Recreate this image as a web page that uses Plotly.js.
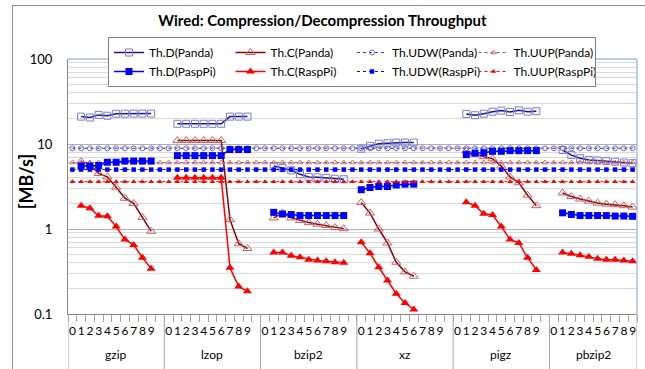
<!DOCTYPE html>
<html><head><meta charset="utf-8">
<script src="https://cdn.plot.ly/plotly-3.0.1.min.js"></script>
<style>
html,body{margin:0;padding:0;background:#fff;}
#chart{width:645px;height:369px;}
#frame{position:absolute;left:12px;top:5px;width:640px;height:370px;border-left:1px solid #8c8c8c;border-top:1px solid #8c8c8c;pointer-events:none;}
</style>
</head><body><div id="chart"></div><div id="frame"></div>
<script>
// categories
const groups = ["gzip", "lzop", "bzip2", "xz", "pigz", "pbzip2"];
const levels = ["0", "1", "2", "3", "4", "5", "6", "7", "8", "9"];

// series values, one sub-array per group (levels 0..9), null = not measured
const thD_Panda = [
  [null, 21, 20.5, 22, 21.5, 22.7, 22.7, 22.8, 22.8, 22.8],
  [null, 17.3, 17.3, 17.3, 17.3, 17.3, 17.3, 21, 21, 21],
  [null, 5.5, 5.2, 4.9, 4.4, 4.1, 4.05, 4.0, 3.9, 3.85],
  [8.8, 9.5, 10.1, 10.2, 10.4, 10.4, 10.4, null, null, null],
  [null, 22.6, 21.8, 22.7, 24.0, 24.7, 23.8, 24.9, 24.0, 24.3],
  [null, 8.5, 7.4, 6.8, 6.5, 6.4, 6.3, 6.2, 6.05, 5.95]
];
const thD_Pi = [
  [null, 5.5, 5.5, 5.6, 6.1, 6.1, 6.3, 6.3, 6.3, 6.3],
  [null, 7.3, 7.3, 7.3, 7.3, 7.3, 7.3, 8.6, 8.6, 8.6],
  [null, 1.57, 1.5, 1.48, 1.44, 1.44, 1.44, 1.44, 1.44, 1.44],
  [2.9, 3.08, 3.16, 3.16, 3.3, 3.37, 3.37, null, null, null],
  [null, 7.5, 7.8, 7.9, 8.2, 8.2, 8.35, 8.35, 8.35, 8.35],
  [null, 1.55, 1.48, 1.44, 1.44, 1.44, 1.44, 1.42, 1.42, 1.41]
];
const thC_Panda = [
  [null, 6.2, 5.7, 4.5, 4.1, 3.1, 2.3, 2.0, 1.37, 0.94],
  [null, 11, 11, 11, 11, 11, 11, 1.29, 0.67, 0.59],
  [null, 1.35, 1.54, 1.35, 1.26, 1.19, 1.14, 1.1, 1.04, 1.01],
  [2.05, 1.54, 1.0, 0.685, 0.406, 0.313, 0.278, null, null, null],
  [null, 8.3, 7.6, 7.1, 6.7, 5.5, 4.1, 3.5, 2.5, 1.88],
  [null, 2.65, 2.41, 2.25, 2.13, 2.02, 1.96, 1.93, 1.88, 1.81]
];
const thC_Pi = [
  [null, 1.88, 1.76, 1.43, 1.41, 1.07, 0.75, 0.65, 0.46, 0.34],
  [null, 4.0, 4.0, 4.0, 4.0, 4.0, 4.0, 0.35, 0.21, 0.185],
  [null, 0.53, 0.53, 0.486, 0.465, 0.436, 0.425, 0.417, 0.406, 0.40],
  [0.70, 0.52, 0.355, 0.247, 0.173, 0.135, 0.113, null, null, null],
  [null, 2.07, 1.88, 1.51, 1.46, 1.07, 0.75, 0.685, 0.46, 0.33],
  [null, 0.53, 0.513, 0.49, 0.47, 0.448, 0.436, 0.436, 0.425, 0.417]
];
// network throughput reference levels (constant)
const udwPanda = 8.9;
const udwPi = 5.0;
const uupPanda = 6.05;
const uupPi = 3.6;

// category slots along x (a blank spacer slot separates groups)
const slotText = [], groupStart = [];
groups.forEach((g, gi) => {
  groupStart.push(slotText.length);
  levels.forEach(l => slotText.push(l));
  if (gi < groups.length - 1) slotText.push(" ");
});
const nCat = slotText.length;
const slotPos = slotText.map((t, i) => i);
const slotEdges = slotPos.map(i => i - 0.5).concat([nCat - 0.5]);
function flat(series) {
  const out = [];
  series.forEach((arr, gi) => { out.push(...arr); if (gi < groups.length - 1) out.push(null); });
  return out;
}
const constant = v => slotPos.map(() => v);

const traces = [
  {name: "Th.D(Panda)", x: slotPos, y: flat(thD_Panda), mode: "lines+markers",
   line: {color: "#14148c", width: 1.5}, marker: {symbol: "square-open", size: 7, color: "#7b7bd6", line: {width: 1}}},
  {name: "Th.C(Panda)", x: slotPos, y: flat(thC_Panda), mode: "lines+markers",
   line: {color: "#8b0000", width: 1.5}, marker: {symbol: "triangle-up-open", size: 8, color: "#cc5f5f", line: {width: 1}}},
  {name: "Th.UDW(Panda)", x: slotPos, y: constant(udwPanda), mode: "lines+markers",
   line: {color: "#3a3ad0", width: 1, dash: "dot"}, marker: {symbol: "circle-open", size: 5, color: "#6a6ad8", line: {width: 1}}},
  {name: "Th.UUP(Panda)", x: slotPos, y: constant(uupPanda), mode: "lines+markers",
   line: {color: "#b84a4a", width: 1, dash: "dot"}, marker: {symbol: "triangle-up-open", size: 5, color: "#c87070", line: {width: 1}}},
  {name: "Th.D(PaspPi)", x: slotPos, y: flat(thD_Pi), mode: "lines+markers",
   line: {color: "#0000ff", width: 1.5}, marker: {symbol: "square", size: 7, color: "#0000ff"}},
  {name: "Th.C(RaspPi)", x: slotPos, y: flat(thC_Pi), mode: "lines+markers",
   line: {color: "#ff0000", width: 1.5}, marker: {symbol: "triangle-up", size: 8, color: "#ff0000"}},
  {name: "Th.UDW(RaspPi)", x: slotPos, y: constant(udwPi), mode: "lines+markers",
   line: {color: "#0000ff", width: 1, dash: "dot"}, marker: {symbol: "square", size: 4.5, color: "#0000ff"}},
  {name: "Th.UUP(RaspPi)", x: slotPos, y: constant(uupPi), mode: "lines+markers",
   line: {color: "#ff0000", width: 1, dash: "dot"}, marker: {symbol: "triangle-up", size: 5, color: "#ff0000"}}
];

const minorVals = [0.2,0.3,0.4,0.5,0.6,0.7,0.8,0.9,2,3,4,5,6,7,8,9,20,30,40,50,60,70,80,90];

// group labels and group dividers below the axis
const annotations = groups.map((g, gi) => {
  const start = groupStart[gi] - 0.5;
  const end = gi < groups.length - 1 ? groupStart[gi + 1] - 0.5 : nCat - 0.5;
  return {text: g, xref: "x", yref: "paper", x: (start + end) / 2, y: -(355 - 314) / 255.3,
          xanchor: "center", yanchor: "middle", showarrow: false, font: {size: 12}};
});
annotations.push({text: "[MB/s]", textangle: -90, xref: "paper", yref: "paper", x: -(68 - 26) / 569,
                  y: (314 - 182) / 255.3, xanchor: "center", yanchor: "middle", showarrow: false,
                  font: {size: 18, weight: 700}});
const dividerPos = groupStart.map(s => s - 0.5).concat([nCat - 0.5]);
const shapes = dividerPos.map(p => ({type: "line", xref: "x", yref: "paper", x0: p, x1: p, y0: 0, y1: -(372 - 314) / 255.3,
                                       line: {color: "#a6a6a6", width: 1}}));
shapes.push({type: "line", xref: "paper", yref: "paper", x0: 0, x1: 1, y0: 1, y1: 1, line: {color: "#7f9fd4", width: 1}});
shapes.push({type: "line", xref: "paper", yref: "paper", x0: 1, x1: 1, y0: 0, y1: 1, line: {color: "#7f9fd4", width: 1}});

const layout = {
  width: 645, height: 369,
  margin: {l: 68, r: 8, t: 59, b: 55},
  paper_bgcolor: "#ffffff", plot_bgcolor: "#ffffff",
  font: {family: "Lato, 'Open Sans', sans-serif", color: "#000000", size: 12},
  title: {text: "Wired: Compression/Decompression Throughput",
          font: {size: 15, weight: 700, family: "Lato, sans-serif"},
          x: 0.5, xref: "container", xanchor: "center", y: 1 - 21 / 369, yref: "container", yanchor: "middle"},
  xaxis: {type: "linear", automargin: false, range: [-0.5, nCat - 0.5], autorange: false,
          showline: true, linecolor: "#868686", linewidth: 1,
          ticks: "outside", ticklen: 6, tickcolor: "rgba(0,0,0,0)",
          tickangle: 0, tickmode: "array", tickvals: slotPos, ticktext: slotText, tickfont: {size: 12},
          minor: {tickmode: "array", tickvals: slotEdges, ticks: "outside", ticklen: 7, tickwidth: 1,
                  tickcolor: "#a6a6a6", showgrid: false},
          showgrid: false, zeroline: false},
  yaxis: {type: "log", range: [-1, 2], tickmode: "array", tickvals: [0.1, 1, 10, 100], ticktext: ["0.1", "1", "10", "100"],
          automargin: false, showline: true, linecolor: "#868686", linewidth: 1, gridcolor: "#b0b0b0", ticks: "",
          tickfont: {size: 13}, ticklabelstandoff: 12, zeroline: false,
          minor: {tickmode: "array", tickvals: minorVals, showgrid: true, gridcolor: "#dadada", ticks: ""}},
  annotations: annotations,
  shapes: shapes,
  legend: {orientation: "h", x: (108 - 68) / 569, xanchor: "left", y: 1 + 22 / 255, yanchor: "top",
           bgcolor: "#ffffff", bordercolor: "#808080", borderwidth: 1, font: {size: 12},
           entrywidth: 76.5, entrywidthmode: "pixels", tracegroupgap: 0, itemwidth: 30},
  showlegend: true
};

Plotly.newPlot("chart", traces, layout, {staticPlot: true, displayModeBar: false});
</script></body></html>
